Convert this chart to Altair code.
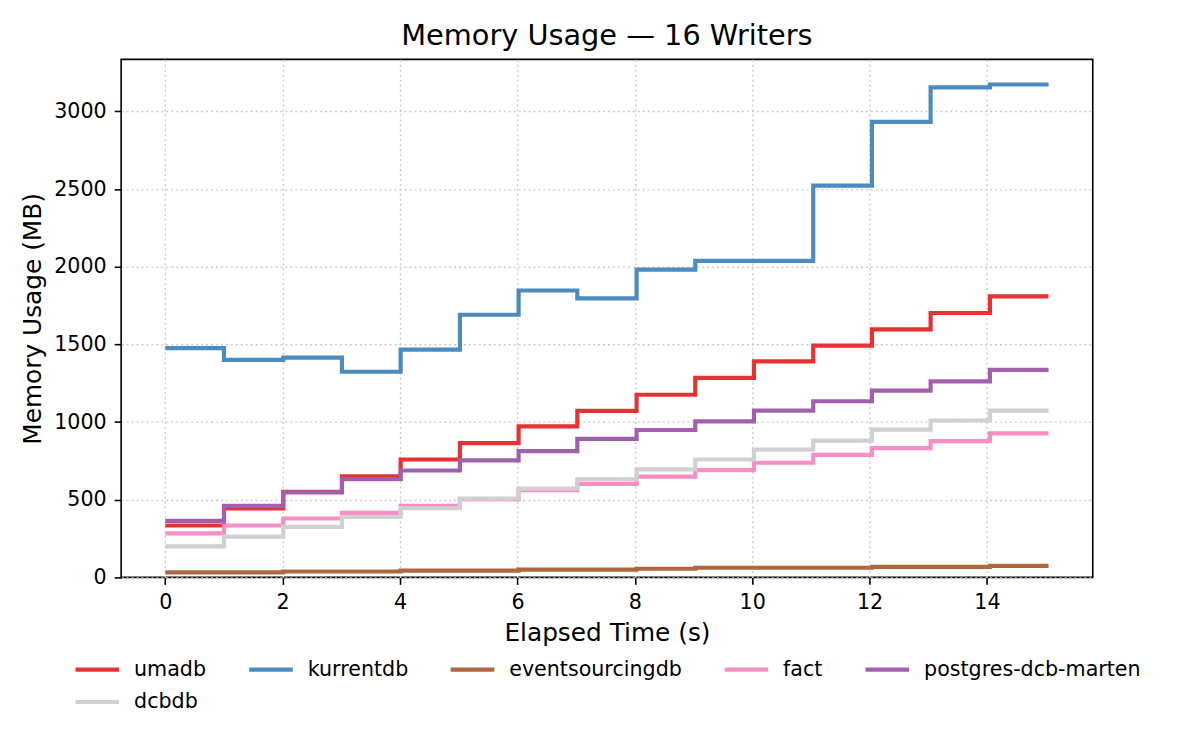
import altair as alt
import pandas as pd

time_s = [0, 1.0, 2.01, 3.01, 4.01, 5.02, 6.02, 7.02, 8.03, 9.03, 10.03, 11.04, 12.04, 13.04, 14.05, 15.05]

series_names = ["umadb", "kurrentdb", "eventsourcingdb", "fact", "postgres-dcb-marten", "dcbdb"]
series_colors = ["#e73133", "#4b8bbf", "#af673e", "#f88ec5", "#a260ac", "#d0d0d0"]

umadb = [334, 444, 551, 651, 759, 864, 972, 1072, 1176, 1285, 1391, 1492, 1597, 1702, 1809, 1809]
kurrentdb = [1476, 1400, 1415, 1324, 1466, 1691, 1847, 1796, 1981, 2038, 2038, 2522, 2932, 3155, 3173, 3173]
eventsourcingdb = [32, 32, 38, 38, 44, 44, 50, 50, 56, 62, 62, 62, 68, 68, 74, 74]
fact = [283, 334, 379, 415, 460, 504, 562, 602, 649, 691, 738, 789, 832, 877, 927, 927]
postgres_dcb_marten = [364, 461, 547, 632, 688, 753, 813, 892, 949, 1004, 1074, 1134, 1202, 1262, 1336, 1336]
dcbdb = [200, 263, 325, 390, 446, 508, 572, 632, 695, 759, 823, 881, 951, 1010, 1074, 1074]

x_ticks = [0, 2, 4, 6, 8, 10, 12, 14]
y_ticks = [0, 500, 1000, 1500, 2000, 2500, 3000]

values = [umadb, kurrentdb, eventsourcingdb, fact, postgres_dcb_marten, dcbdb]
rows = []
for order, (name, vals) in enumerate(zip(series_names, values)):
    for t, v in zip(time_s, vals):
        rows.append({"series": name, "t": t, "mem": v, "order": order})
df = pd.DataFrame(rows)

FONT = "DejaVu Sans"

chart = alt.Chart(df).mark_line(interpolate="step-after", strokeWidth=4.2, strokeCap="butt").encode(
    x=alt.X("t:Q",
            scale=alt.Scale(domain=[-0.7525, 15.8025], nice=False, zero=False),
            axis=alt.Axis(values=x_ticks, title="Elapsed Time (s)", format="d")),
    y=alt.Y("mem:Q",
            scale=alt.Scale(domain=[0, 3335], nice=False, zero=False),
            axis=alt.Axis(values=y_ticks, title="Memory Usage (MB)", format="d")),
    color=alt.Color("series:N",
                    scale=alt.Scale(domain=series_names, range=series_colors),
                    sort=series_names,
                    legend=alt.Legend(
                        title=None, orient="none", direction="horizontal", columns=5,
                        legendX=-37.5, legendY=601,
                        symbolType="M-2,0H2", symbolSize=484, symbolStrokeWidth=4.2,
                        labelFont=FONT, labelFontSize=20.8, labelColor="black",
                        labelOffset=23.5, columnPadding=34, rowPadding=9, padding=0,
                        labelLimit=400)),
    order=alt.Order("order:Q"),
).properties(
    width=979, height=522,
    title=alt.TitleParams("Memory Usage — 16 Writers", font=FONT, fontSize=29,
                          fontWeight="normal", color="black", anchor="middle",
                          baseline="alphabetic", offset=12.5, dy=27),
    autosize=alt.AutoSizeParams(type="none"),
    padding={"left": 114, "top": 49, "right": 100, "bottom": 150},
).configure_view(
    stroke="black", strokeWidth=1.6
).configure_axis(
    domain=False,
    grid=True, gridColor="#cccccc", gridDash=[2, 3], gridWidth=1.4,
    tickColor="black", tickWidth=1.6, tickSize=7,
    labelFont=FONT, labelFontSize=20.8, labelColor="black", labelPadding=8,
    titleFont=FONT, titleFontSize=25, titleFontWeight="normal", titleColor="black",
).configure_axisX(
    titlePadding=9
).configure_axisY(
    titlePadding=8
)

chart.save("out.html", embed_options={"renderer": "svg", "actions": False})
